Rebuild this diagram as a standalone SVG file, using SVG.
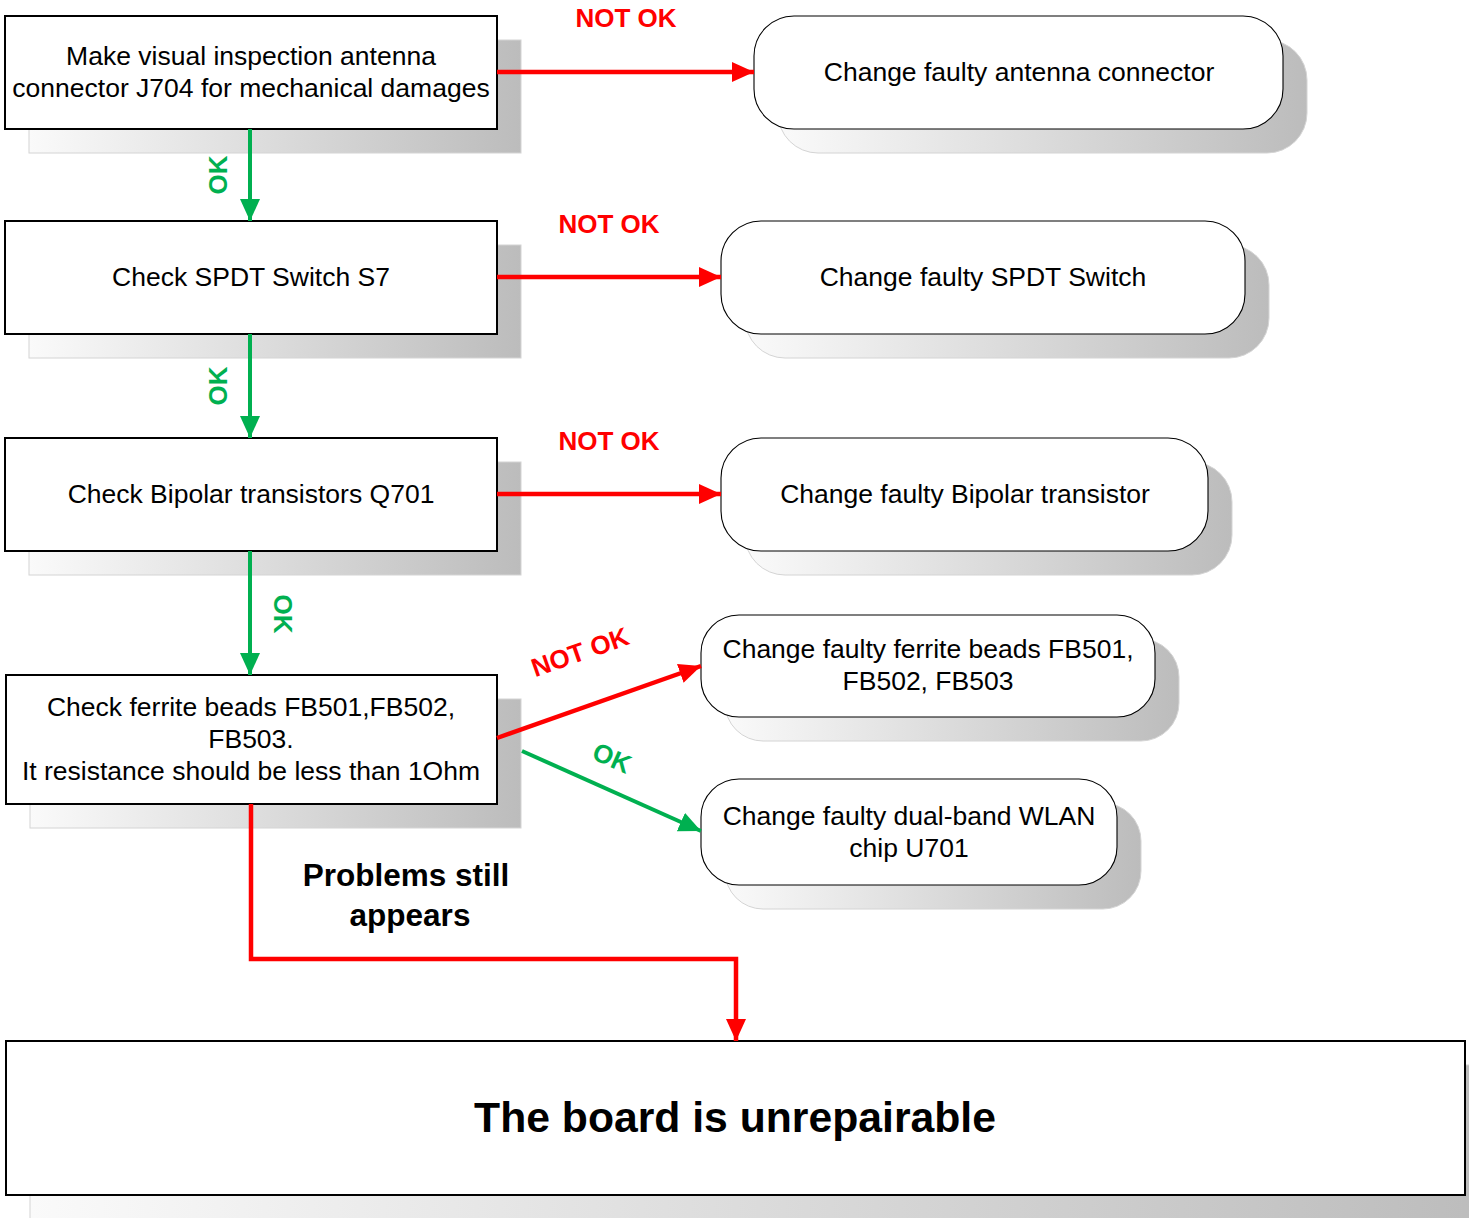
<svg xmlns="http://www.w3.org/2000/svg" width="1469" height="1218" viewBox="0 0 1469 1218">
<defs>
<linearGradient id="sh" x1="0" y1="0" x2="1" y2="0">
<stop offset="0" stop-color="#fafafa"/>
<stop offset="1" stop-color="#bcbcbc"/>
</linearGradient>
<marker id="ar" markerUnits="userSpaceOnUse" markerWidth="24" markerHeight="22" refX="22" refY="10" orient="auto">
<path d="M0,0 L22,10 L0,20 z" fill="#ff0000"/>
</marker>
<marker id="ag" markerUnits="userSpaceOnUse" markerWidth="24" markerHeight="22" refX="22" refY="10" orient="auto">
<path d="M0,0 L22,10 L0,20 z" fill="#00b050"/>
</marker>
</defs>
<style>
.shadow{fill:url(#sh);stroke:#d4d4d4;stroke-width:1}
.box{fill:#ffffff;stroke:#000000;stroke-width:2}
.rbox{fill:#ffffff;stroke:#000000;stroke-width:1.1}
.t{font-family:"Liberation Sans",Arial,sans-serif;font-size:26.5px;fill:#000;text-anchor:middle}
.lr{font-family:"Liberation Sans",Arial,sans-serif;font-size:26px;font-weight:bold;fill:#ff0000;text-anchor:middle}
.lg{font-family:"Liberation Sans",Arial,sans-serif;font-size:26px;font-weight:bold;fill:#00b050;text-anchor:middle}
.red{stroke:#ff0000;stroke-width:4.5;fill:none}
.grn{stroke:#00b050;stroke-width:4;fill:none}
</style>

<g id="n1">
<rect class="shadow" x="29" y="40" width="492" height="113"/>
<rect class="box" x="5" y="16" width="492" height="113"/>
<text class="t" x="251" y="65">Make visual inspection antenna</text>
<text class="t" x="251" y="97">connector J704 for mechanical damages</text>
</g>
<g id="n2">
<rect class="shadow" x="29" y="245" width="492" height="113"/>
<rect class="box" x="5" y="221" width="492" height="113"/>
<text class="t" x="251" y="286">Check SPDT Switch S7</text>
</g>
<g id="n3">
<rect class="shadow" x="29" y="462" width="492" height="113"/>
<rect class="box" x="5" y="438" width="492" height="113"/>
<text class="t" x="251" y="503">Check Bipolar transistors Q701</text>
</g>
<g id="n4">
<rect class="shadow" x="30" y="699" width="491" height="129"/>
<rect class="box" x="6" y="675" width="491" height="129"/>
<text class="t" x="251" y="716">Check ferrite beads FB501,FB502,</text>
<text class="t" x="251" y="748">FB503.</text>
<text class="t" x="251" y="780">It resistance should be less than 1Ohm</text>
</g>
<g id="r1">
<rect class="shadow" x="778" y="40" width="529" height="113" rx="40"/>
<rect class="rbox" x="754" y="16" width="529" height="113" rx="40"/>
<text class="t" x="1019" y="81">Change faulty antenna connector</text>
</g>
<g id="r2">
<rect class="shadow" x="745" y="245" width="524" height="113" rx="40"/>
<rect class="rbox" x="721" y="221" width="524" height="113" rx="40"/>
<text class="t" x="983" y="286">Change faulty SPDT Switch</text>
</g>
<g id="r3">
<rect class="shadow" x="745" y="462" width="487" height="113" rx="40"/>
<rect class="rbox" x="721" y="438" width="487" height="113" rx="40"/>
<text class="t" x="965" y="503">Change faulty Bipolar transistor</text>
</g>
<g id="r4">
<rect class="shadow" x="725" y="639" width="454" height="102" rx="38"/>
<rect class="rbox" x="701" y="615" width="454" height="102" rx="38"/>
<text class="t" x="928" y="658">Change faulty ferrite beads FB501,</text>
<text class="t" x="928" y="690">FB502, FB503</text>
</g>
<g id="r5">
<rect class="shadow" x="725" y="803" width="416" height="106" rx="38"/>
<rect class="rbox" x="701" y="779" width="416" height="106" rx="38"/>
<text class="t" x="909" y="825">Change faulty dual-band WLAN</text>
<text class="t" x="909" y="857">chip U701</text>
</g>
<g id="end">
<rect class="shadow" x="30" y="1065" width="1459" height="170"/>
<rect class="box" x="6" y="1041" width="1459" height="154" stroke-width="2.5"/>
<text class="t" x="735" y="1132" style="font-size:42.7px;font-weight:bold">The board is unrepairable</text>
</g>

<g id="connectors">
<line class="red" x1="497" y1="72" x2="754" y2="72" marker-end="url(#ar)"/>
<line class="red" x1="497" y1="277" x2="721" y2="277" marker-end="url(#ar)"/>
<line class="red" x1="497" y1="494" x2="721" y2="494" marker-end="url(#ar)"/>
<line class="red" x1="497" y1="738" x2="701" y2="666" marker-end="url(#ar)"/>
<line class="grn" x1="522" y1="751" x2="701" y2="831" marker-end="url(#ag)"/>
<line class="grn" x1="250" y1="129" x2="250" y2="221" marker-end="url(#ag)"/>
<line class="grn" x1="250" y1="334" x2="250" y2="438" marker-end="url(#ag)"/>
<line class="grn" x1="250" y1="551" x2="250" y2="675" marker-end="url(#ag)"/>
<polyline class="red" points="251,804 251,959 736,959 736,1041" marker-end="url(#ar)"/>
<text class="lr" x="626" y="27">NOT OK</text>
<text class="lr" x="609" y="233">NOT OK</text>
<text class="lr" x="609" y="450">NOT OK</text>
<text class="lr" transform="translate(580,652) rotate(-19.4)" x="0" y="9">NOT OK</text>
<text class="lg" transform="translate(612,758) rotate(24)" x="0" y="9">OK</text>
<text class="lg" transform="translate(218,175) rotate(-90)" x="0" y="9">OK</text>
<text class="lg" transform="translate(218,386) rotate(-90)" x="0" y="9">OK</text>
<text class="lg" transform="translate(283,614) rotate(90)" x="0" y="9">OK</text>
<text class="t" x="406" y="886" style="font-size:31.5px;font-weight:bold">Problems still</text>
<text class="t" x="410" y="926" style="font-size:31.5px;font-weight:bold">appears</text>
</g>
</svg>
